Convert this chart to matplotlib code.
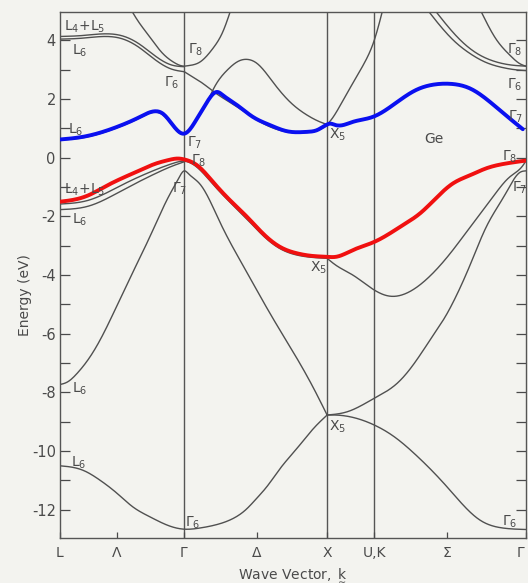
import matplotlib
matplotlib.use('Agg')
import matplotlib.pyplot as plt
import numpy as np

plt.rcParams['axes.unicode_minus'] = False
plt.rcParams['mathtext.default'] = 'regular'

# high symmetry points along the path (wave vector units)
k_sym = [0.0, 0.87, 1.87, 2.20, 3.26]
k_tick_pos = [0.0, 0.40, 0.87, 1.38, 1.87, 2.20, 2.71, 3.26]
k_tick_labels = ['L', r'$\Lambda$', r'$\Gamma$', r'$\Delta$', 'X', 'U,K', r'$\Sigma$', r'$\Gamma$']

# ---- gray bands (energy in eV) ----
# L -> Gamma, upper conduction pair
c_lg_a_k = [0, 0.15, 0.31, 0.43, 0.55, 0.66, 0.78, 0.87]
c_lg_a_e = [4.13, 4.16, 4.22, 4.16, 3.89, 3.49, 3.16, 3.10]
c_lg_b_k = [0, 0.15, 0.31, 0.43, 0.55, 0.66, 0.78, 0.87]
c_lg_b_e = [4.04, 4.07, 4.13, 4.06, 3.77, 3.36, 3.02, 2.93]
c_lg_g8_k = [0.49, 0.55, 0.62, 0.71, 0.80, 0.87]
c_lg_g8_e = [5.10, 4.63, 4.17, 3.60, 3.24, 3.12]
# L -> Gamma, lowest conduction (under blue)
c_lg_1_k = [0, 0.16, 0.40, 0.56, 0.66, 0.72, 0.79, 0.87]
c_lg_1_e = [0.60, 0.68, 1.02, 1.36, 1.55, 1.46, 1.08, 0.80]
# Gamma -> X conduction
c_gx_g8_k = [0.87, 0.89, 0.98, 1.07, 1.14, 1.20]
c_gx_g8_e = [3.12, 3.13, 3.26, 3.72, 4.29, 5.10]
c_gx_g6_k = [0.87, 0.91, 1.00, 1.07, 1.24, 1.42, 1.59, 1.73, 1.80, 1.87]
c_gx_g6_e = [2.93, 2.81, 2.53, 2.27, 1.73, 1.17, 0.88, 0.86, 0.92, 1.11]
c_gx_g7_k = [0.87, 0.91, 0.96, 1.03, 1.07, 1.17, 1.25, 1.31, 1.38, 1.49, 1.61, 1.73, 1.82, 1.87]
c_gx_g7_e = [0.80, 0.98, 1.32, 1.88, 2.30, 2.98, 3.29, 3.35, 3.21, 2.58, 1.90, 1.45, 1.22, 1.13]
# X -> U,K steep conduction
c_xk_k = [1.87, 1.90, 1.95, 2.01, 2.06, 2.13, 2.20, 2.26]
c_xk_e = [1.13, 1.30, 1.68, 2.20, 2.62, 3.22, 4.00, 5.05]
# K -> Gamma upper conduction
c_kg_a_k = [2.57, 2.75, 2.87, 2.98, 3.10, 3.20, 3.26]
c_kg_a_e = [5.05, 4.02, 3.55, 3.25, 3.07, 2.99, 2.97]
c_kg_b_k = [2.62, 2.80, 2.92, 3.03, 3.14, 3.22, 3.26]
c_kg_b_e = [5.05, 4.02, 3.55, 3.30, 3.17, 3.13, 3.12]
c_kg_g8_k = [2.95, 3.05, 3.15, 3.22, 3.26]
c_kg_g8_e = [4.96, 4.06, 3.49, 3.20, 3.12]

# valence, L -> Gamma
v_lg_a_k = [0, 0.20, 0.43, 0.66, 0.80, 0.87]
v_lg_a_e = [-1.58, -1.45, -0.94, -0.43, -0.18, -0.12]
v_lg_b_k = [0, 0.20, 0.43, 0.66, 0.80, 0.87]
v_lg_b_e = [-1.77, -1.65, -1.13, -0.56, -0.26, -0.14]
v_lg_g7_k = [0, 0.05, 0.12, 0.21, 0.28, 0.45, 0.64, 0.76, 0.83, 0.87]
v_lg_g7_e = [-7.73, -7.65, -7.35, -6.79, -6.22, -4.51, -2.58, -1.33, -0.71, -0.45]
v_lg_g6_k = [0, 0.16, 0.28, 0.40, 0.51, 0.63, 0.75, 0.87]
v_lg_g6_e = [-10.50, -10.65, -10.99, -11.44, -11.90, -12.24, -12.52, -12.66]
# valence, Gamma -> X
v_gx_hh_k = [0.87, 0.96, 1.07, 1.19, 1.31, 1.42, 1.54, 1.66, 1.77, 1.87]
v_gx_hh_e = [-0.12, -0.33, -0.90, -1.52, -2.10, -2.65, -3.10, -3.32, -3.40, -3.43]
v_gx_g7_k = [0.87, 0.90, 0.98, 1.12, 1.31, 1.42, 1.54, 1.66, 1.78, 1.87]
v_gx_g7_e = [-0.45, -0.55, -0.90, -2.20, -3.92, -4.88, -5.88, -6.85, -7.90, -8.77]
v_gx_g6_k = [0.87, 0.98, 1.10, 1.21, 1.30, 1.375, 1.45, 1.54, 1.66, 1.78, 1.87]
v_gx_g6_e = [-12.66, -12.62, -12.50, -12.30, -12.00, -11.62, -11.20, -10.60, -9.90, -9.20, -8.77]
# valence, X -> U,K -> Gamma
v_xg_mid_k = [1.87, 1.93, 2.05, 2.20, 2.31, 2.42, 2.56, 2.75, 2.89, 3.03, 3.15, 3.25, 3.26]
v_xg_mid_e = [-3.43, -3.66, -4.00, -4.51, -4.72, -4.63, -4.17, -3.15, -2.24, -1.34, -0.65, -0.20, -0.12]
v_xg_g7_k = [1.87, 2.01, 2.20, 2.36, 2.48, 2.59, 2.71, 2.77, 2.88, 2.98, 3.12, 3.22, 3.26]
v_xg_g7_e = [-8.77, -8.66, -8.20, -7.69, -7.01, -6.22, -5.31, -4.75, -3.55, -2.40, -1.22, -0.50, -0.45]
v_xg_g6_k = [1.87, 1.93, 2.05, 2.20, 2.34, 2.48, 2.71, 2.94, 3.10, 3.26]
v_xg_g6_e = [-8.77, -8.77, -8.85, -9.11, -9.51, -10.08, -11.22, -12.35, -12.62, -12.67]

# ---- highlighted bands ----
blue_k = [0, 0.16, 0.40, 0.56, 0.66, 0.72, 0.79, 0.87, 0.96, 1.03, 1.10, 1.14, 1.24, 1.35,
          1.47, 1.59, 1.73, 1.80, 1.87, 1.89, 1.93, 2.05, 2.19, 2.33, 2.49, 2.63, 2.75,
          2.87, 3.01, 3.12, 3.24]
blue_e = [0.62, 0.71, 1.05, 1.39, 1.58, 1.50, 1.11, 0.82, 1.34, 1.90, 2.24, 2.13, 1.79, 1.39,
          1.11, 0.90, 0.88, 0.94, 1.13, 1.16, 1.11, 1.22, 1.39, 1.79, 2.30, 2.50, 2.51,
          2.36, 1.90, 1.45, 0.97]
red_k = [0, 0.10, 0.20, 0.31, 0.43, 0.55, 0.66, 0.76, 0.83, 0.87, 0.96, 1.07, 1.19, 1.31,
         1.42, 1.54, 1.66, 1.77, 1.87, 1.93, 2.05, 2.20, 2.40, 2.52, 2.63, 2.75, 2.87,
         2.98, 3.12, 3.26]
red_e = [-1.50, -1.43, -1.28, -1.00, -0.71, -0.45, -0.22, -0.08, -0.03, -0.06, -0.26, -0.82,
         -1.45, -2.02, -2.58, -3.04, -3.26, -3.35, -3.38, -3.38, -3.15, -2.87, -2.30, -1.90,
         -1.39, -0.88, -0.60, -0.37, -0.20, -0.10]


def join(ka, ea, kb, eb):
    # bands that pass smoothly through Gamma: one curve
    return list(ka) + list(kb[1:]), list(ea) + list(eb[1:])


gray_bands = [
    (c_lg_a_k, c_lg_a_e), (c_lg_b_k, c_lg_b_e),
    join(c_lg_g8_k, c_lg_g8_e, c_gx_g8_k, c_gx_g8_e),
    join(c_lg_1_k, c_lg_1_e, c_gx_g7_k, c_gx_g7_e),
    (c_gx_g6_k, c_gx_g6_e), (c_xk_k, c_xk_e),
    (c_kg_a_k, c_kg_a_e), (c_kg_b_k, c_kg_b_e), (c_kg_g8_k, c_kg_g8_e),
    join(v_lg_a_k, v_lg_a_e, v_gx_hh_k, v_gx_hh_e), (v_lg_b_k, v_lg_b_e),
    join(v_lg_g7_k, v_lg_g7_e, v_gx_g7_k, v_gx_g7_e),
    join(v_lg_g6_k, v_lg_g6_e, v_gx_g6_k, v_gx_g6_e),
    (v_xg_mid_k, v_xg_mid_e), (v_xg_g7_k, v_xg_g7_e), (v_xg_g6_k, v_xg_g6_e),
]

# labels of band states: (text, k, energy)
state_labels = [
    ('L$_4$+L$_5$', 0.17, 4.45), ('L$_6$', 0.14, 3.64), (r'$\Gamma_8$', 0.95, 3.66),
    (r'$\Gamma_6$', 0.78, 2.55), ('L$_6$', 0.11, 0.94), (r'$\Gamma_7$', 0.94, 0.49),
    (r'$\Gamma_8$', 0.97, -0.12), ('L$_4$+L$_5$', 0.17, -1.11), ('L$_6$', 0.14, -2.10),
    (r'$\Gamma_7$', 0.84, -1.07), ('X$_5$', 1.94, 0.77), ('Ge', 2.62, 0.63),
    (r'$\Gamma_8$', 3.18, 3.66), (r'$\Gamma_6$', 3.18, 2.50), (r'$\Gamma_7$', 3.19, 1.41),
    (r'$\Gamma_8$', 3.15, 0.04), (r'$\Gamma_7$', 3.22, -1.04), ('X$_5$', 1.81, -3.76),
    ('X$_5$', 1.94, -9.18), ('L$_6$', 0.14, -7.89), ('L$_6$', 0.13, -10.41),
    (r'$\Gamma_6$', 0.93, -12.45), (r'$\Gamma_6$', 3.15, -12.42),
]


def smooth(x, y, n=400):
    # natural cubic spline through the read points
    x = np.asarray(x, float)
    y = np.asarray(y, float)
    N = len(x)
    h = np.diff(x)
    A = np.zeros((N, N))
    r = np.zeros(N)
    A[0, 0] = 1
    A[-1, -1] = 1
    for i in range(1, N - 1):
        A[i, i - 1] = h[i - 1]
        A[i, i] = 2 * (h[i - 1] + h[i])
        A[i, i + 1] = h[i]
        r[i] = 6 * ((y[i + 1] - y[i]) / h[i] - (y[i] - y[i - 1]) / h[i - 1])
    M = np.linalg.solve(A, r)
    xs = np.linspace(x[0], x[-1], n)
    idx = np.clip(np.searchsorted(x, xs) - 1, 0, N - 2)
    hh = h[idx]
    a = (x[idx + 1] - xs) / hh
    b = (xs - x[idx]) / hh
    ys = a * y[idx] + b * y[idx + 1] + ((a**3 - a) * M[idx] + (b**3 - b) * M[idx + 1]) * hh**2 / 6
    return xs, ys


bg = '#f3f3ef'
ink = '#4a4a4a'
fig = plt.figure(figsize=(5.28, 5.83), dpi=100, facecolor=bg)
ax = fig.add_axes([0.1136, 0.0772, 0.882, 0.902], facecolor=bg)

for kk, ee in gray_bands:
    xs, ys = smooth(kk, ee)
    ax.plot(xs, ys, color='#505050', lw=1.0, zorder=2)

for kv in k_sym[1:4]:
    ax.axvline(kv, color='#555555', lw=1.0, zorder=1)

xs, ys = smooth(blue_k, blue_e)
ax.plot(xs, ys, color='#0a10f0', lw=2.8, solid_capstyle='round', zorder=4)
xs, ys = smooth(red_k, red_e)
ax.plot(xs, ys, color='#f01010', lw=2.8, solid_capstyle='round', zorder=4)

for txt, kx, ey in state_labels:
    ax.text(kx, ey, txt, fontsize=10, color=ink, ha='center', va='center', zorder=5)

ax.set_xlim(k_sym[0], k_sym[-1])
ax.set_ylim(-12.96, 4.96)
ax.set_yticks(np.arange(-12, 5, 2))
ax.set_yticks(np.arange(-12, 5, 1), minor=True)
ax.set_xticks(k_tick_pos)
ax.set_xticklabels(k_tick_labels)
ax.get_xticklabels()[-1].set_ha('right')
ax.tick_params(axis='y', which='both', direction='in', left=True, right=True,
               length=7, width=0.9, colors=ink, labelsize=10.5, pad=3)
ax.tick_params(axis='x', direction='in', length=4, width=0.9, colors=ink,
               labelsize=10, pad=6)
for sp in ax.spines.values():
    sp.set_color('#555555')
    sp.set_linewidth(1.0)

ax.set_ylabel('Energy (eV)', fontsize=10, color=ink)
ax.yaxis.set_label_coords(-0.06, 0.462)
ax.set_xlabel(r'Wave Vector, $\underset{\sim}{\mathrm{k}}$', fontsize=10, color=ink, labelpad=4)

fig.savefig('out.png', dpi=100, facecolor=bg)
